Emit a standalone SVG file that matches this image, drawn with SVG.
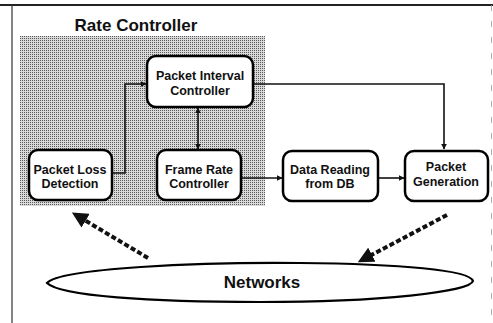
<svg xmlns="http://www.w3.org/2000/svg" width="493" height="323" viewBox="0 0 493 323">
<style>
.box{fill:#fff;stroke:#000;stroke-width:2.5}
.lbl{font-family:"Liberation Sans",Arial,sans-serif;font-weight:bold;font-size:12.5px;text-anchor:middle;fill:#111}
.ln{fill:none;stroke:#111;stroke-width:1.6}
.dash{fill:none;stroke:#111;stroke-width:4;stroke-dasharray:5 2.5}
</style>
<defs>
<pattern id="dots" width="2" height="2" patternUnits="userSpaceOnUse">
<rect width="2" height="2" fill="#d9d9d9"/>
<rect width="1" height="1" fill="#5a5a5a"/>
</pattern>
<marker id="ah" viewBox="0 0 10 10" refX="9" refY="5" markerWidth="6" markerHeight="6" markerUnits="userSpaceOnUse" orient="auto-start-reverse">
<path d="M0,0 L10,5 L0,10 z" fill="#111"/>
</marker>
<marker id="bh" viewBox="0 0 10 10" refX="7" refY="5" markerWidth="4" markerHeight="4" orient="auto">
<path d="M0,0 L10,5 L0,10 z" fill="#111"/>
</marker>
</defs>
<rect width="493" height="323" fill="#fff"/>
<g id="frame">
<line x1="0" y1="5" x2="493" y2="5" stroke="#222" stroke-width="2"/>
<line x1="12" y1="5" x2="12" y2="323" stroke="#333" stroke-width="1.2"/>
<line x1="491.5" y1="5" x2="491.5" y2="323" stroke="#999" stroke-width="0.8" stroke-dasharray="6 10"/>
</g>
<g id="rate-controller">
<rect x="20" y="36" width="245" height="170" fill="url(#dots)"/>
<text x="136" y="31" class="lbl" style="font-size:17px">Rate Controller</text>
</g>
<g id="connectors">
<polyline class="ln" points="112,173 125,173 125,84 146,84" marker-end="url(#ah)"/>
<line class="ln" x1="198" y1="108" x2="198" y2="149" marker-start="url(#ah)" marker-end="url(#ah)"/>
<polyline class="ln" points="253,84 444,84 444,149" marker-end="url(#ah)"/>
<line class="ln" x1="241" y1="178" x2="282" y2="178" marker-end="url(#ah)"/>
<line class="ln" x1="378" y1="178" x2="404" y2="178" marker-end="url(#ah)"/>
<line class="dash" x1="148" y1="258" x2="76" y2="215" marker-end="url(#bh)"/>
<line class="dash" x1="447" y1="215" x2="362" y2="260" marker-end="url(#bh)"/>
</g>
<g id="packet-interval-controller">
<rect class="box" x="147" y="56" width="106" height="51" rx="9"/>
<text class="lbl" x="200" y="80">Packet Interval</text>
<text class="lbl" x="200" y="95">Controller</text>
</g>
<g id="packet-loss-detection">
<rect class="box" x="29" y="150" width="83" height="50" rx="9"/>
<text class="lbl" x="70" y="174">Packet Loss</text>
<text class="lbl" x="70" y="188">Detection</text>
</g>
<g id="frame-rate-controller">
<rect class="box" x="157" y="150" width="84" height="50" rx="9"/>
<text class="lbl" x="199" y="174">Frame Rate</text>
<text class="lbl" x="199" y="188">Controller</text>
</g>
<g id="data-reading">
<rect class="box" x="283" y="151" width="95" height="50" rx="9"/>
<text class="lbl" x="330" y="174">Data Reading</text>
<text class="lbl" x="330" y="188">from DB</text>
</g>
<g id="packet-generation">
<rect class="box" x="405" y="151" width="83" height="50" rx="9"/>
<text class="lbl" x="446" y="171">Packet</text>
<text class="lbl" x="446" y="186">Generation</text>
</g>
<g id="networks">
<path d="M47,283 C60,268 200,262 300,263 C400,264 470,270 473,281 C470,292 380,302 260,302 C150,302 60,296 47,283 Z" fill="#fff" stroke="#000" stroke-width="2.2"/>
<text class="lbl" x="262" y="288" style="font-size:17px">Networks</text>
</g>
</svg>
